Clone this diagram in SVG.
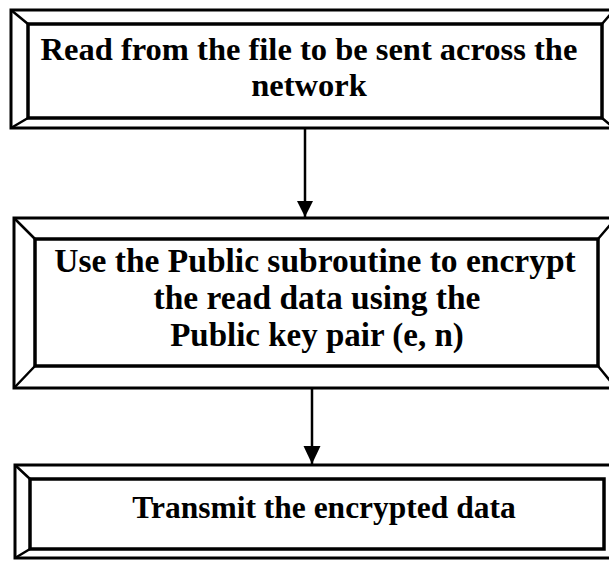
<svg xmlns="http://www.w3.org/2000/svg" width="609" height="562" viewBox="0 0 609 562">
  <style>
    .outer { fill: #fff; stroke: #000; stroke-width: 3; }
    .inner { fill: #fff; stroke: #000; stroke-width: 3.5; }
    .bevel { fill: none; stroke: #000; stroke-width: 2.5; }
    .label { font-family: "Liberation Serif", "Times New Roman", serif; font-weight: bold; fill: #000; text-anchor: middle; }
    .flow { stroke: #000; stroke-width: 2.5; fill: none; }
  </style>

  <!-- Step 1: read input -->
  <g id="read-file">
    <rect class="outer" x="11" y="10" width="607" height="118"/>
    <rect class="inner" x="28" y="24" width="574" height="94"/>
    <path class="bevel" d="M11,10 L28,24 M11,128 L28,118 M602,24 L614,10 M602,118 L614,128"/>
    <text class="label" font-size="32.5" x="309" y="60">Read from the file to be sent across the</text>
    <text class="label" font-size="32.5" x="309" y="96">network</text>
  </g>

  <!-- Step 2: encrypt with public key -->
  <g id="encrypt">
    <rect class="outer" x="14" y="218" width="604" height="170"/>
    <rect class="inner" x="35" y="239" width="563" height="127"/>
    <path class="bevel" d="M14,218 L35,239 M14,388 L35,366 M598,239 L616,218 M598,366 L616,388"/>
    <text class="label" font-size="33.5" x="315" y="272">Use the Public subroutine to encrypt</text>
    <text class="label" font-size="33.5" x="317" y="309">the read data using the</text>
    <text class="label" font-size="33" x="317" y="346">Public key pair (e, n)</text>
  </g>

  <!-- Step 3: transmit -->
  <g id="transmit">
    <rect class="outer" x="15" y="465" width="603" height="93"/>
    <rect class="inner" x="30" y="479" width="574" height="70"/>
    <path class="bevel" d="M15,465 L30,479 M15,558 L30,549"/>
    <text class="label" font-size="31.5" x="324" y="518">Transmit the encrypted data</text>
  </g>

  <!-- Connectors: shafts and filled arrowheads -->
  <g id="connectors">
    <line class="flow" x1="305" y1="128" x2="305" y2="217"/>
    <line class="flow" x1="312" y1="388" x2="312" y2="464"/>
    <path d="M297,201 L313,201 L305,217 Z" fill="#000"/>
    <path d="M303.5,446 L320.5,446 L312,464 Z" fill="#000"/>
  </g>
</svg>
